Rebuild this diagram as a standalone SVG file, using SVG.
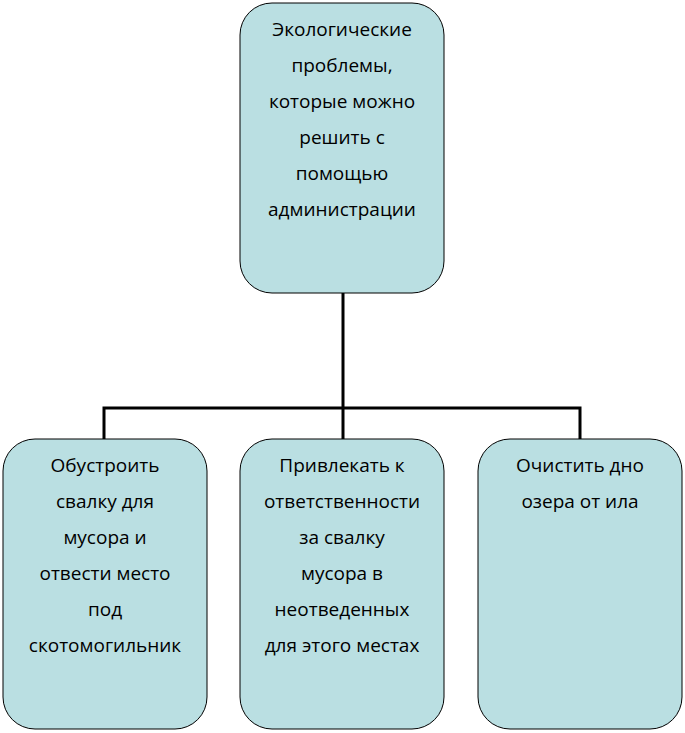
<svg xmlns="http://www.w3.org/2000/svg" width="685" height="733" viewBox="0 0 685 733">
<style>
.n{fill:#badfe2;stroke:#000;stroke-width:1}
.t{font-family:"Open Sans","Liberation Sans",sans-serif;font-size:19px;text-anchor:middle;fill:#000}
.c{stroke:#000;stroke-width:3;fill:none}
</style>
<rect width="685" height="733" fill="#fff"/>
<g id="connectors">
<path class="c" d="M343 293V408M104 439V408H580V439M343 408V439"/>
</g>
<g id="top"><rect class="n" x="240" y="3" width="204" height="290" rx="32"/>
<text class="t"><tspan x="342" y="36">Экологические</tspan><tspan x="342" y="72">проблемы,</tspan><tspan x="342" y="108">которые можно</tspan><tspan x="342" y="144">решить с</tspan><tspan x="342" y="180">помощью</tspan><tspan x="342" y="216">администрации</tspan></text></g>
<g id="b1"><rect class="n" x="3" y="439" width="204" height="290" rx="32"/>
<text class="t"><tspan x="105" y="472">Обустроить</tspan><tspan x="105" y="508">свалку для</tspan><tspan x="105" y="544">мусора и</tspan><tspan x="105" y="580">отвести место</tspan><tspan x="105" y="616">под</tspan><tspan x="105" y="652">скотомогильник</tspan></text></g>
<g id="b2"><rect class="n" x="240" y="439" width="204" height="290" rx="32"/>
<text class="t"><tspan x="342" y="472">Привлекать к</tspan><tspan x="342" y="508">ответственности</tspan><tspan x="342" y="544">за свалку</tspan><tspan x="342" y="580">мусора в</tspan><tspan x="342" y="616">неотведенных</tspan><tspan x="342" y="652">для этого местах</tspan></text></g>
<g id="b3"><rect class="n" x="478" y="439" width="204" height="290" rx="32"/>
<text class="t"><tspan x="580" y="472">Очистить дно</tspan><tspan x="580" y="508">озера от ила</tspan></text></g>
</svg>
